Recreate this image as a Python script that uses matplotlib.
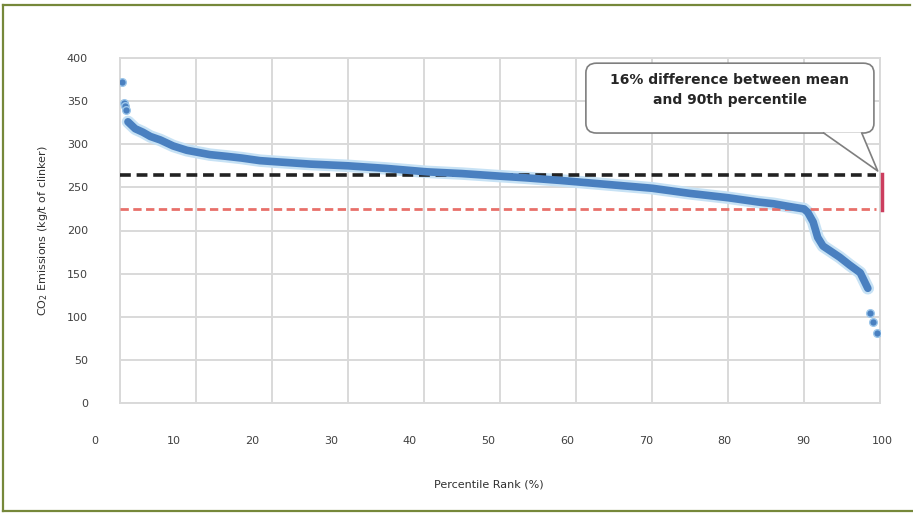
import matplotlib.pyplot as plt
from matplotlib.patches import FancyBboxPatch, Polygon
from matplotlib.lines import Line2D

# sorted CO2 intensity vs percentile rank
pct = [1.05, 2, 3, 4, 5.3, 7, 8.8, 10, 11.8, 14, 16, 18.4, 20, 25, 30, 35,
       40.4, 45, 50, 53.5, 58, 62, 66, 70, 75, 80, 84, 86, 88.6, 90, 90.5,
       91.2, 91.8, 92.5, 94.7, 96, 97.4, 98.4]
co2 = [326, 318, 314, 309, 305, 298, 293, 291, 288, 286, 284, 281, 280, 277,
       275, 272, 268, 266, 263, 261, 258, 255, 252, 249, 243, 238, 233, 231,
       227, 225, 221, 210, 192, 182, 169, 160, 151, 133]

# isolated points at both ends
top_pct = [0.2, 0.5, 0.65, 0.8]
top_co2 = [372, 348, 344, 340]
low_pct = [98.7, 99.1, 99.6]
low_co2 = [104, 94, 81]

mean_val = 264
p90_val = 225

x_ticks = [0, 10, 20, 30, 40, 50, 60, 70, 80, 90, 100]
y_ticks = [0, 50, 100, 150, 200, 250, 300, 350, 400]

W, H = 913, 513
fig = plt.figure(figsize=(W / 100, H / 100), dpi=100)
font = ['Liberation Sans Narrow', 'DejaVu Sans']
tick_col = '#404040'

ax = fig.add_axes([120 / W, 1 - 403 / H, 760 / W, 345 / H])
ax.set_xlim(0, 100)
ax.set_ylim(0, 400)
ax.set_xticks(x_ticks)
ax.set_yticks(y_ticks)
ax.grid(True, color='#d9d9d9', lw=1.4)
ax.set_axisbelow(True)
for s in ax.spines.values():
    s.set_color('#d9d9d9')
    s.set_linewidth(1.4)
ax.tick_params(length=0, labelbottom=False, labelleft=True, pad=23,
               labelsize=8, labelcolor=tick_col)
for t in ax.get_yticklabels():
    t.set_family(font)

# x tick labels sit on a slightly wider scale in the original
axl = fig.add_axes([95 / W, 1 - 403 / H, 787 / W, 345 / H])
axl.set_xlim(0, 100)
axl.set_xticks(x_ticks)
axl.patch.set_visible(False)
axl.set_yticks([])
for s in axl.spines.values():
    s.set_visible(False)
axl.tick_params(length=0, pad=24, labelsize=8, labelcolor=tick_col)
for t in axl.get_xticklabels():
    t.set_family(font)
axl.set_xlabel('Percentile Rank (%)', fontsize=8, family=font,
               color='#303030', labelpad=24)

ax.set_ylabel('CO$_2$ Emissions (kg/t of clinker)', fontsize=8,
              family=font, color='#303030', labelpad=12)

# reference lines
ax.plot([0, 99.5], [mean_val, mean_val], color='#222222', lw=2.6,
        dashes=(3, 1.6), zorder=4)
ax.plot([0, 99.5], [p90_val, p90_val], color='#e8706a', lw=2.0,
        dashes=(3, 1.6), zorder=4)

# curve
blue = '#4a80c0'
ax.plot(pct, co2, color='#c7e2f5', lw=9, solid_capstyle='round', zorder=3)
ax.plot(pct, co2, color=blue, lw=5.5, solid_capstyle='round', zorder=5)
ax.plot(top_pct, top_co2, 'o', color=blue, ms=5.5, mec='#9cc6ea', mew=1,
        zorder=5)
ax.plot(low_pct, low_co2, 'o', color=blue, ms=5.5, mec='#9cc6ea', mew=1,
        zorder=5)

# red bar marking the gap
ax.plot([100.3, 100.3], [mean_val + 1, p90_val - 1], color='#cc3d5e', lw=2.5,
        clip_on=False, zorder=6)

# callout box
x0, x1, y0, y1 = 61.3, 99.2, 313, 394
box = FancyBboxPatch((x0, y0), x1 - x0, y1 - y0,
                     boxstyle='round,pad=0,rounding_size=1.4',
                     mutation_aspect=8, fc='white', ec='#7f7f7f', lw=1.2,
                     zorder=7, clip_on=False)
ax.add_patch(box)
ptr = Polygon([(92.6, y0 + 0.8), (99.7, 269), (97.6, y0 + 0.8)], closed=True,
              fc='white', ec='none', zorder=8, clip_on=False)
ax.add_patch(ptr)
ax.add_line(Line2D([92.6, 99.7, 97.6], [y0, 269, y0], color='#7f7f7f',
                   lw=1.2, zorder=9, clip_on=False))
ax.text((x0 + x1) / 2, 363, '16% difference between mean\nand 90th percentile',
        ha='center', va='center', fontsize=10, fontweight='bold',
        family=font, color='#262626', linespacing=1.5, zorder=10)

# outer frame
for xs, ys in [([3, 3], [5, 511]), ([3, 910], [5, 5]), ([3, 913], [511, 511])]:
    fig.add_artist(Line2D([x / W for x in xs], [1 - y / H for y in ys],
                          color='#76883a', lw=1.6))

fig.savefig('out.png', dpi=100)
